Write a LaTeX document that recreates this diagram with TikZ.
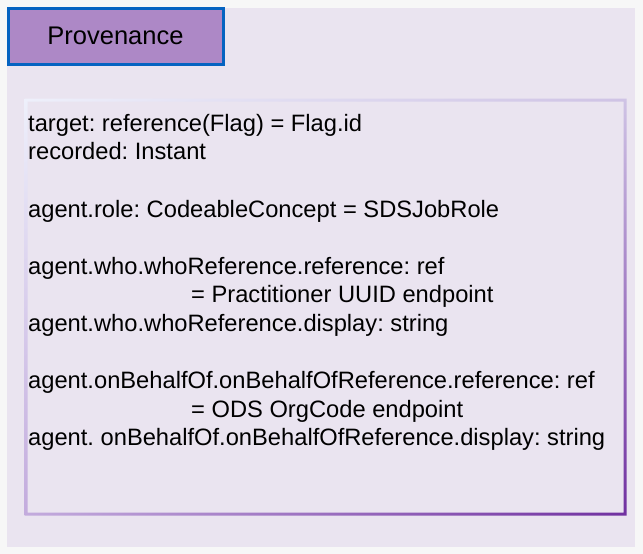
\documentclass[tikz,border=0pt]{standalone}
\usepackage{fontspec}
\setmainfont{Liberation Sans}
\usetikzlibrary{positioning,shadings}

\definecolor{pagegrey}{HTML}{F7F7F7}
\definecolor{panelbg}{HTML}{EAE4F0}
\definecolor{titlefill}{HTML}{AD88C6}
\definecolor{titleline}{HTML}{0563C1}
\definecolor{frameA}{HTML}{EEF0FB}
\definecolor{frameB}{HTML}{CFC3E5}
\definecolor{frameC}{HTML}{C3ABDD}
\definecolor{frameD}{HTML}{7030A0}

\begin{document}
\frenchspacing
\begin{tikzpicture}[x=1pt, y=-1pt,
  titlebox/.style={draw=titleline, fill=titlefill, line width=3pt,
    minimum width=215pt, minimum height=56pt, inner sep=0pt,
    font=\fontsize{25.5}{30}\selectfont},
  fields/.style={anchor=north west, inner sep=0pt, align=left,
    font=\fontsize{23.7}{28.6}\selectfont}]
  \useasboundingbox (0,0) rectangle (643,554);
  \fill[pagegrey] (0,0) rectangle (643,554);
  \fill[panelbg] (7,8) rectangle (635,547);
  % gradient frame round the fields
  \shade[even odd rule, upper left=frameA, upper right=frameB,
    lower left=frameC, lower right=frameD]
    (24.5,98.5) rectangle (626.5,515.5) (27.5,101.5) rectangle (623.5,512.5);
  \node[titlebox, anchor=north west] (title) at (6.5,6.5) {Provenance};
  \node[fields] (body) at (28,114) {%
    target: reference(Flag) = Flag.id\\
    recorded: Instant\\
    \mbox{}\\
    agent.role: CodeableConcept = SDSJobRole\\
    \mbox{}\\
    agent.who.whoReference.reference: ref\\
    \hspace*{163pt}= Practitioner UUID endpoint\\
    agent.who.whoReference.display: string\\
    \mbox{}\\
    agent.onBehalfOf.onBehalfOfReference.reference: ref\\
    \hspace*{163pt}= ODS OrgCode endpoint\\
    agent. onBehalfOf.onBehalfOfReference.display: string};
\end{tikzpicture}
\end{document}
